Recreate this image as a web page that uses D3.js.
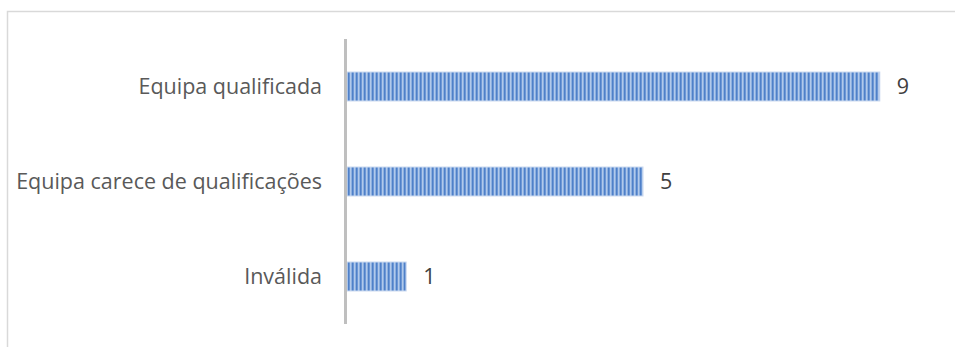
<!DOCTYPE html>
<html><head><meta charset="utf-8">
<script src="https://cdn.jsdelivr.net/npm/d3@7"></script>
<style>body{margin:0;background:#fff}svg{display:block}</style>
</head><body>
<script>
const categories = ["Equipa qualificada", "Equipa carece de qualificações", "Inválida"];
const values = [9, 5, 1];
const xDomainMax = 10;

const W = 955, H = 347;
const svg = d3.select("body").append("svg").attr("width", W).attr("height", H);

// outer border (chart area)
svg.append("path").attr("d", `M7.5,${H} V11.5 H${W}`).attr("fill","none").attr("stroke","#d9d9d9").attr("stroke-width",1.5);

const defs = svg.append("defs");
const pat = defs.append("pattern").attr("id","stripes").attr("patternUnits","userSpaceOnUse")
  .attr("width",4).attr("height",4);
const stripeCols = ["#4f80c8","#6d98d6","#b2c9ea","#8cb0e0"];
stripeCols.forEach((c,i)=>pat.append("rect").attr("x",i).attr("y",0).attr("width",1).attr("height",4).attr("fill",c));

const x = d3.scaleLinear().domain([0, xDomainMax]).range([347, 939]);
const y = d3.scaleBand().domain(categories).range([39, 324]).paddingInner(0.695).paddingOuter(0.3475);

svg.selectAll("rect.bar").data(categories).join("rect")
  .attr("class","bar")
  .attr("x", x(0))
  .attr("y", d => y(d))
  .attr("width", (d,i) => x(values[i]) - x(0))
  .attr("height", y.bandwidth())
  .attr("fill","url(#stripes)");
svg.selectAll("rect.edge").data(categories).join("rect")
  .attr("class","edge")
  .attr("x", x(0)).attr("y", d => y(d))
  .attr("width", (d,i) => x(values[i]) - x(0)).attr("height", y.bandwidth())
  .attr("fill","none").attr("stroke","#c9d8ef").attr("stroke-width",1);

// axis line
svg.append("line").attr("x1",345.5).attr("x2",345.5).attr("y1",39).attr("y2",324)
  .attr("stroke","#bfbfbf").attr("stroke-width",3);

const font = "'Open Sans', sans-serif";
const cats = svg.selectAll("text.cat").data(categories).join("text")
  .attr("class","cat")
  .attr("x", 322).attr("y", d => y(d) + y.bandwidth()/2)
  .attr("dy","0.35em").attr("text-anchor","end")
  .attr("font-family", font).attr("font-size", 18).attr("fill","#595959")
  .text(d => d);
// fit font size so longest label spans ~306px like the reference
const longest = cats.filter((d,i)=>i===1).node();
const fs = 18 * 306 / longest.getComputedTextLength();
cats.attr("font-size", fs);

svg.selectAll("text.val").data(categories).join("text")
  .attr("class","val")
  .attr("x", (d,i) => x(values[i]) + 17).attr("y", d => y(d) + y.bandwidth()/2)
  .attr("dy","0.35em")
  .attr("font-family", font).attr("font-size", fs).attr("fill","#404040")
  .text((d,i) => values[i]);
</script>
</body></html>
